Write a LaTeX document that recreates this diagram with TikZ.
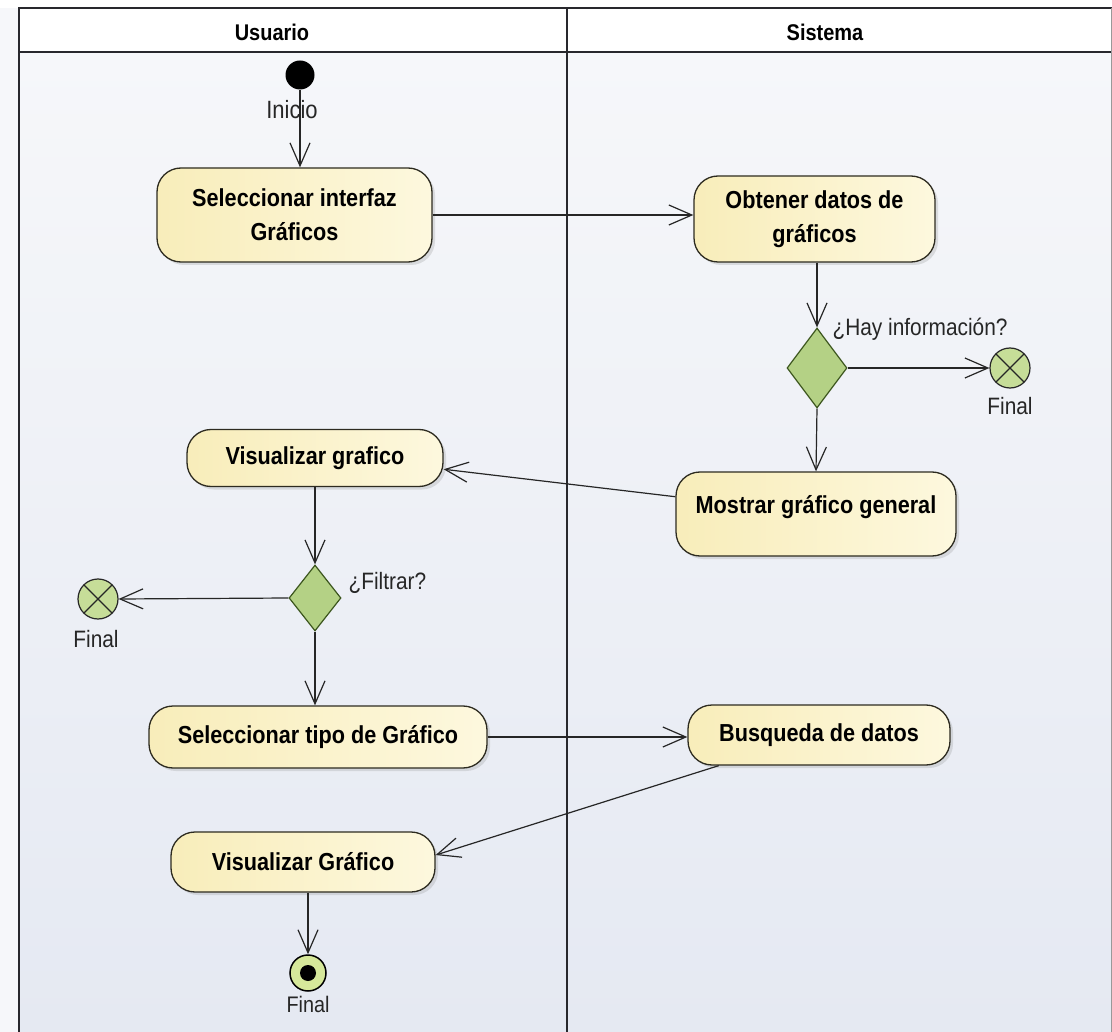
\documentclass[tikz,border=0pt]{standalone}
\usepackage{fontspec}
\setmainfont{Liberation Sans}
\newfontfamily\condfont[FakeStretch=0.88]{Liberation Sans}
\usetikzlibrary{arrows.meta,shapes.geometric,shadows,calc}
\definecolor{bgtop}{RGB}{246,247,250}
\definecolor{bgbot}{RGB}{229,233,242}
\definecolor{actA}{RGB}{248,237,186}
\definecolor{actB}{RGB}{253,248,222}
\definecolor{actline}{RGB}{45,43,32}
\definecolor{decfill}{RGB}{180,209,133}
\definecolor{decline}{RGB}{60,86,30}
\definecolor{finfill}{RGB}{198,221,152}
\definecolor{endfill}{RGB}{214,232,154}
\definecolor{frameline}{RGB}{40,40,45}
\tikzset{
  actbox/.style={draw=actline, line width=1.3pt, rounded corners=24pt,
    left color=actA, right color=actB, align=center, inner sep=0pt,
    font=\condfont\fontsize{24.6}{34}\selectfont\bfseries,
    drop shadow={opacity=0.22, shadow xshift=3pt, shadow yshift=-3pt}},
  decbox/.style={diamond, draw=decline, line width=1.2pt, fill=decfill, inner sep=0pt},
  finx/.style={circle, draw=black!85, line width=1.2pt, fill=finfill, minimum size=40pt, inner sep=0pt,
    path picture={\draw[line width=1.2pt, black!85] (path picture bounding box.south west) -- (path picture bounding box.north east)
      (path picture bounding box.north west) -- (path picture bounding box.south east);}},
  lbl/.style={font=\condfont\fontsize{23.7}{26}\selectfont, text=black!85},
  flow/.style={line width=1.2pt, draw=black!85, -{Straight Barb[length=23pt,width=20pt,line width=1.2pt]}},
  lanetitle/.style={font=\condfont\fontsize{22.7}{26}\selectfont\bfseries}
}
\begin{document}
\begin{tikzpicture}[x=1pt,y=-1pt]
\useasboundingbox (0,0) rectangle (1112,1032);
% backgrounds
\fill[bgtop] (0,0) rectangle (1112,1032);
\fill[white] (0,0) rectangle (1112,8);
\shade[top color=bgtop, bottom color=bgbot] (19,52) rectangle (1111,1032);
\fill[white!97!bgtop] (19,8) rectangle (1111,52);
% frame
\draw[frameline, line width=1.8pt] (19,1032) -- (19,8) -- (1112,8);
\draw[frameline, line width=1.8pt] (19,52) -- (1112,52);
\draw[frameline, line width=1.6pt] (567,8) -- (567,1032);
\draw[black!40, line width=1pt] (1111,8) -- (1111,1032);
\node[lanetitle] (tu) at (272,32) {Usuario};
\node[lanetitle] (ts) at (825,32) {Sistema};
% nodes
\node[circle, fill=black, minimum size=29pt, inner sep=0pt] (ini) at (300,75) {};
\node[lbl, font=\condfont\fontsize{25}{28}\selectfont] (linicio) at (292,110) {Inicio};
\node[actbox, minimum width=275pt, minimum height=94pt] (selint) at (294.5,215) {Seleccionar interfaz\\Gráficos};
\node[actbox, minimum width=241pt, minimum height=86pt] (obt) at (814.5,219) {Obtener datos de\\gráficos};
\node[decbox, minimum width=60pt, minimum height=80pt] (dec1) at (817,368) {};
\node[lbl, anchor=west] (lhay) at (829,329) {¿Hay información?};
\node[finx] (fin1) at (1010,368) {};
\node[lbl] (lfin1) at (1010,406) {Final};
\node[actbox, minimum width=280pt, minimum height=84pt] (most) at (816,514) {\raisebox{1pt}[0pt][0pt]{Mostrar gráfico general}};
\node[actbox, minimum width=256pt, minimum height=57pt] (vis1) at (315,458) {Visualizar grafico};
\node[decbox, minimum width=52pt, minimum height=66pt] (dec2) at (315,598) {};
\node[lbl, anchor=west] (lfil) at (345,583) {¿Filtrar?};
\node[finx] (fin2) at (98,599) {};
\node[lbl] (lfin2) at (96,639) {Final};
\node[actbox, minimum width=338pt, minimum height=62pt] (seltip) at (318,737) {Seleccionar tipo de Gráfico};
\node[actbox, minimum width=262pt, minimum height=60pt] (busq) at (819,735) {Busqueda de datos};
\node[actbox, minimum width=264pt, minimum height=60pt] (vis2) at (303,862) {Visualizar Gráfico};
\node[circle, draw=black, line width=1.5pt, fill=endfill, minimum size=36pt, inner sep=0pt,
  path picture={\fill[black] (path picture bounding box.center) circle (8pt);}] (fin3) at (308,973) {};
\node[lbl, font=\condfont\fontsize{22.5}{25}\selectfont] (lfin3) at (308,1004) {Final};
% flows
\draw[flow] (ini) -- (ini |- selint.north);
\draw[flow] (selint.east) -- (selint.east -| obt.west);
\draw[flow] (dec1.north |- obt.south) -- (dec1.north);
\draw[flow] (dec1.east) -- (fin1.west);
\draw[flow] (dec1.south) -- (most.north);
\draw[flow] (most.173) -- (vis1.-5);
\draw[flow] (vis1.south) -- (dec2.north);
\draw[flow] (dec2.west) -- (fin2.east);
\draw[flow] (dec2.south) -- (seltip.north -| dec2.south);
\draw[flow] (seltip.east) -- (seltip.east -| busq.west);
\draw[flow] (busq.197) -- (vis2.3);
\draw[flow] (fin3 |- vis2.south) -- (fin3.north);
\end{tikzpicture}
\end{document}
